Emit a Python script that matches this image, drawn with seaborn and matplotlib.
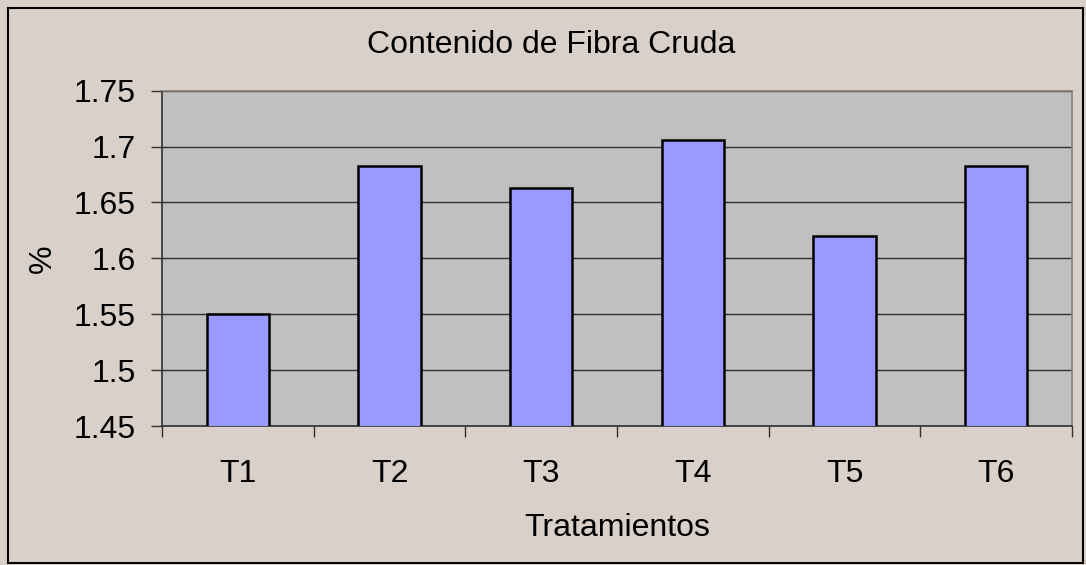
import matplotlib
matplotlib.use("Agg")
import matplotlib.pyplot as plt
import seaborn as sns
import pandas as pd
from matplotlib.patches import Rectangle

categories = ["T1", "T2", "T3", "T4", "T5", "T6"]
values = [1.55, 1.683, 1.663, 1.706, 1.62, 1.683]
yticks = [1.45, 1.5, 1.55, 1.6, 1.65, 1.7, 1.75]
ytick_labels = ["1.45", "1.5", "1.55", "1.6", "1.65", "1.7", "1.75"]

sns.set_theme(style="white")
plt.rcParams['font.family'] = ['Liberation Sans', 'DejaVu Sans']
plt.rcParams['text.color'] = 'black'
plt.rcParams['axes.labelcolor'] = 'black'
plt.rcParams['xtick.color'] = 'black'
plt.rcParams['ytick.color'] = 'black'

df = pd.DataFrame({"cat": categories, "val": values})

FS = 23

fig = plt.figure(figsize=(10.86, 5.65), dpi=100, facecolor="#d9d0c9")
ax = fig.add_axes([162/1086, 1-426/565, (1072-162)/1086, (426-90.7)/565])
ax.set_facecolor("#c0c0c0")

sns.barplot(data=df, x="cat", y="val", color="#9999ff", edgecolor="black",
            linewidth=1.8, width=0.41, saturation=1, ax=ax, zorder=3)

ax.set_ylim(1.45, 1.75)
ax.set_xlim(-0.5, 5.5)
ax.set_yticks(yticks)
ax.set_yticklabels(ytick_labels, fontsize=FS, color="black")
ax.yaxis.grid(True, color="#303030", linewidth=1.0, zorder=0)
ax.set_axisbelow(True)

ax.set_xticks(range(len(categories)))
ax.set_xticklabels(categories, fontsize=FS, color="black")
ax.set_xticks([i - 0.5 for i in range(len(categories) + 1)], minor=True)
ax.tick_params(axis="x", which="major", length=0, pad=24)
ax.tick_params(axis="x", which="minor", length=8, width=1, color="#303030", direction="out", bottom=True)
ax.tick_params(axis="y", which="major", length=8, width=1, color="#303030", direction="out", left=True, pad=11)

for s in ["left", "bottom"]:
    ax.spines[s].set_color("#303030")
    ax.spines[s].set_linewidth(1.2)
for s in ["top", "right"]:
    ax.spines[s].set_color("#808080")
    ax.spines[s].set_linewidth(1.2)

ax.set_xlabel("Tratamientos", fontsize=FS, labelpad=17, color="black")
ax.set_ylabel("%", fontsize=FS, labelpad=11, color="black")

fig.text(551/1086, 1-45/565, "Contenido de Fibra Cruda", ha="center", va="center", fontsize=FS, color="black")

fig.patches.append(Rectangle((8/1086, 1-563/565), (1083-8)/1086, (563-8)/565,
                             transform=fig.transFigure, fill=False, edgecolor="black", linewidth=1.5))

fig.savefig("out.png", dpi=100, facecolor=fig.get_facecolor())
